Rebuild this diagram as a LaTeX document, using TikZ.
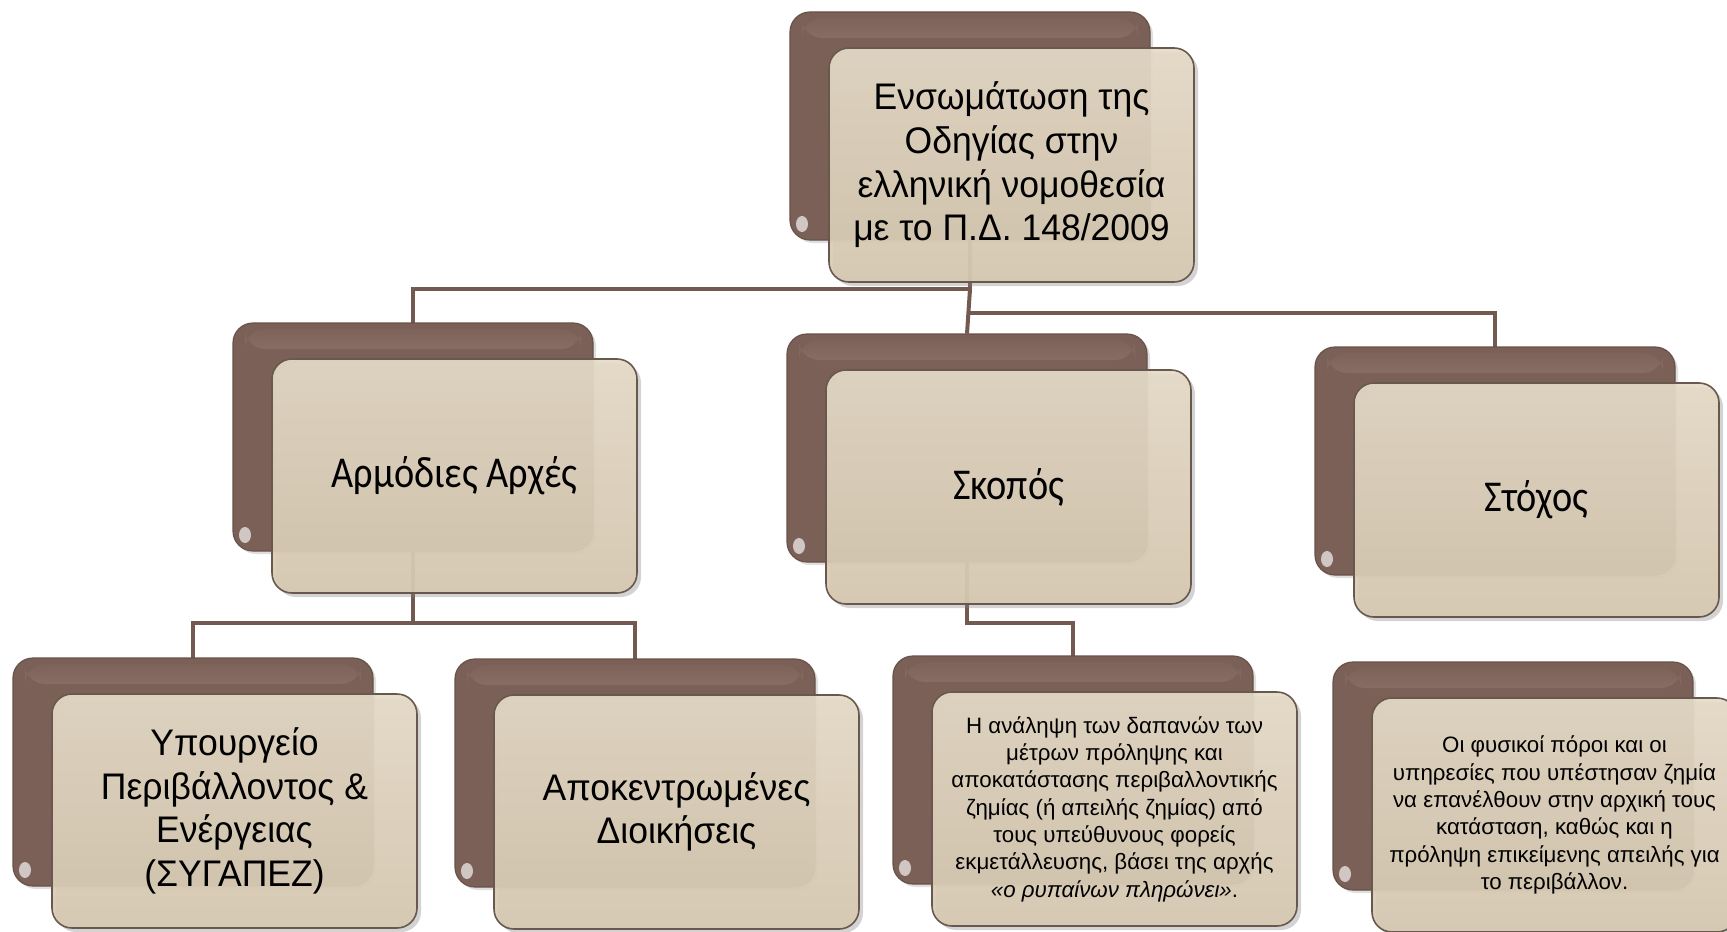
\documentclass[tikz,border=0pt]{standalone}
\usepackage{fontspec}
\setmainfont{Liberation Sans}
\newfontfamily\calib[FakeStretch=0.87]{Carlito}
\newfontfamily\arialc[FakeStretch=0.96]{Liberation Sans}
\usetikzlibrary{shadows}
\definecolor{backbrown}{RGB}{122,96,86}
\definecolor{glossc}{RGB}{178,152,142}
\definecolor{fronttop}{RGB}{229,219,199}
\definecolor{frontbot}{RGB}{215,201,177}
\definecolor{frameline}{RGB}{105,88,78}
\definecolor{connc}{RGB}{115,90,80}
\tikzset{
  backbox/.style={rectangle, rounded corners=10pt, minimum width=180pt, minimum height=114pt,
    inner sep=0pt, fill=backbrown, draw=backbrown!85!black, line width=0.6pt,
    drop shadow={shadow xshift=1.5pt, shadow yshift=-1.5pt, opacity=0.25},
    path picture={
      \shade[top color=backbrown, bottom color=backbrown, middle color=glossc]
        ([xshift=6pt,yshift=-3pt]path picture bounding box.north west) rectangle
        ([xshift=-6pt,yshift=-13pt]path picture bounding box.north east);
      \fill[white, opacity=0.65] ([xshift=6pt,yshift=8pt]path picture bounding box.south west)
        ellipse (3pt and 4pt);
    }},
  frontbox/.style={rectangle, rounded corners=10pt, minimum width=182.5pt, minimum height=117pt,
    inner sep=2pt, top color=fronttop, bottom color=frontbot, draw=frameline, line width=0.8pt,
    fill opacity=0.92, text opacity=1, align=center,
    drop shadow={shadow xshift=2pt, shadow yshift=-2pt, opacity=0.35}},
  bigtxt/.style={font=\arialc\fontsize{18.5}{21.8}\selectfont},
  smalltxt/.style={font=\fontsize{11.15}{13.65}\selectfont},
  calibtxt/.style={font=\calib\fontsize{22}{26}\selectfont},
  conn/.style={draw=connc, line width=2pt}
}
\begin{document}
\begin{tikzpicture}[x=0.5pt,y=-0.5pt]
\useasboundingbox (0,0) rectangle (1727,931);
% junction coordinates
\coordinate (j0) at (970,289);
\coordinate (j0b) at (970,313);
\coordinate (j1) at (413,623);
% back boxes (positions)
\path (970,126) coordinate (p0)
      (413,437) coordinate (p1)
      (967,448) coordinate (p2)
      (1495,461) coordinate (p3)
      (193,772) coordinate (p4)
      (635,773) coordinate (p5)
      (1073,770) coordinate (p6)
      (1513,776) coordinate (p7);
% connectors (below boxes)
\path (p0) node[minimum width=180pt, minimum height=114pt, inner sep=0pt] (b0) {}
      (p1) node[minimum width=180pt, minimum height=114pt, inner sep=0pt] (b1) {}
      (p2) node[minimum width=180pt, minimum height=114pt, inner sep=0pt] (b2) {}
      (p3) node[minimum width=180pt, minimum height=114pt, inner sep=0pt] (b3) {}
      (p4) node[minimum width=180pt, minimum height=114pt, inner sep=0pt] (b4) {}
      (p5) node[minimum width=180pt, minimum height=114pt, inner sep=0pt] (b5) {}
      (p6) node[minimum width=180pt, minimum height=114pt, inner sep=0pt] (b6) {};
\draw[conn] (b0.south) -- (j0) -| (b1.north);
\draw[conn] (j0) -- (b2.north);
\draw[conn] (b2.north |- j0b) -| (b3.north);
\draw[conn] (b1.south) -- (j1) -| (b4.north);
\draw[conn] (j1) -| (b5.north);
\draw[conn] (b2.south) -- (b2.south |- j1) -| (b6.north);
% boxes
\node[backbox] (k0) at (p0) {};
\node[frontbox, bigtxt] (f0) at ([shift={(41.5,39)}]p0) {Ενσωμάτωση της\\Οδηγίας στην\\ελληνική νομοθεσία\\με το Π.Δ. 148/2009};
\node[backbox] (k1) at (p1) {};
\node[frontbox, calibtxt] (f1) at ([shift={(41.5,39)}]p1) {Αρμόδιες Αρχές};
\node[backbox] (k2) at (p2) {};
\node[frontbox, calibtxt] (f2) at ([shift={(41.5,39)}]p2) {Σκοπός};
\node[backbox] (k3) at (p3) {};
\node[frontbox, calibtxt] (f3) at ([shift={(41.5,39)}]p3) {Στόχος};
\node[backbox] (k4) at (p4) {};
\node[frontbox, bigtxt] (f4) at ([shift={(41.5,39)}]p4) {Υπουργείο\\Περιβάλλοντος \&\\Ενέργειας\\(ΣΥΓΑΠΕΖ)};
\node[backbox] (k5) at (p5) {};
\node[frontbox, bigtxt] (f5) at ([shift={(41.5,39)}]p5) {Αποκεντρωμένες\\Διοικήσεις};
\node[backbox] (k6) at (p6) {};
\node[frontbox, smalltxt] (f6) at ([shift={(41.5,39)}]p6) {Η ανάληψη των δαπανών των\\μέτρων πρόληψης και\\αποκατάστασης περιβαλλοντικής\\ζημίας (ή απειλής ζημίας) από\\τους υπεύθυνους φορείς\\εκμετάλλευσης, βάσει της αρχής\\\textit{«ο ρυπαίνων πληρώνει»}.};
\node[backbox] (k7) at (p7) {};
\node[frontbox, smalltxt] (f7) at ([shift={(41.5,39)}]p7) {Οι φυσικοί πόροι και οι\\υπηρεσίες που υπέστησαν ζημία\\να επανέλθουν στην αρχική τους\\κατάσταση, καθώς και η\\πρόληψη επικείμενης απειλής για\\το περιβάλλον.};
\end{tikzpicture}
\end{document}
